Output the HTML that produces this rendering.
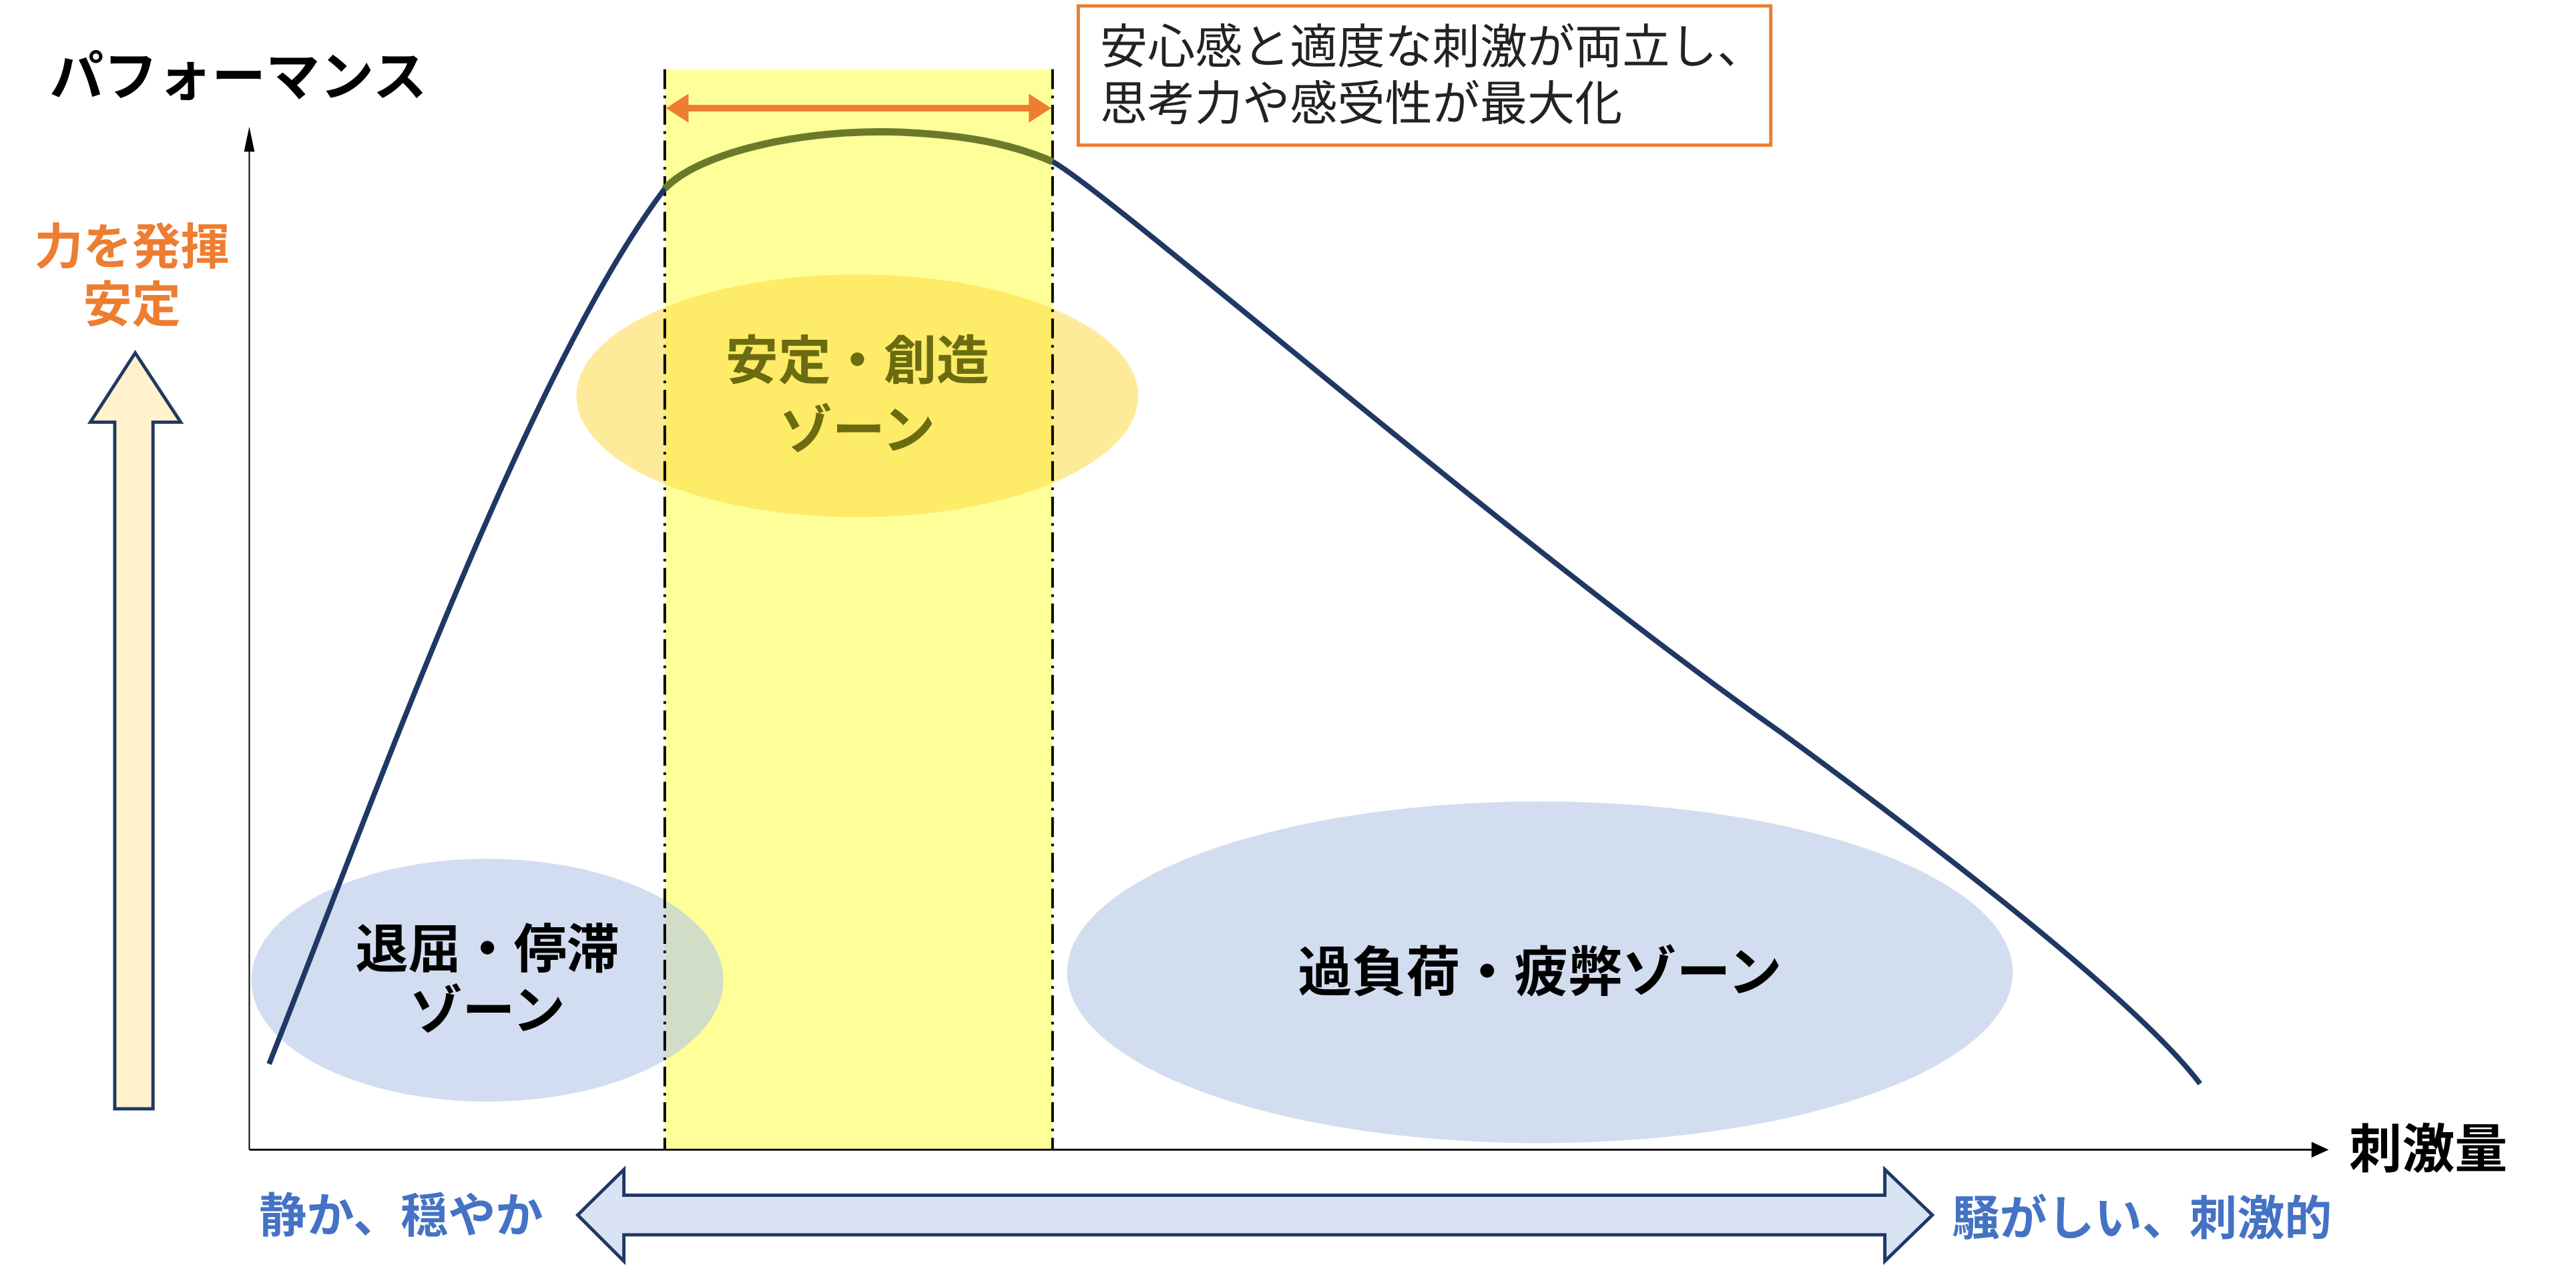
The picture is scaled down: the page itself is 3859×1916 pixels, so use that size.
<!DOCTYPE html>
<html><head><meta charset="utf-8"><style>
html,body{margin:0;padding:0;background:#fff;}
svg{display:block;}
text{font-family:"Liberation Sans","Noto Sans CJK JP",sans-serif;}
</style></head><body>
<svg width="3859" height="1916" viewBox="0 0 3906 1939" preserveAspectRatio="none" xmlns="http://www.w3.org/2000/svg">
<!-- yellow band -->
<rect x="1008" y="105" width="588" height="1638" fill="#ffff99"/>
<!-- ellipses -->
<ellipse cx="1300" cy="600" rx="426" ry="184" fill="#fdd835" fill-opacity="0.5"/>
<ellipse cx="739" cy="1486" rx="358" ry="184" fill="#b4c7e7" fill-opacity="0.6"/>
<ellipse cx="2335" cy="1474" rx="717" ry="259" fill="#d2ddf0"/>
<!-- axes -->
<line x1="378" y1="1743" x2="378" y2="205" stroke="#000" stroke-width="2"/>
<path d="M370,230 L378,192 L386,230z" fill="#000"/>
<line x1="378" y1="1743" x2="3510" y2="1743" stroke="#000" stroke-width="3"/>
<path d="M3505,1731 L3531,1743 L3505,1755z" fill="#000"/>
<!-- dash-dot lines -->
<line x1="1008" y1="105" x2="1008" y2="1743" stroke="#000" stroke-width="4" stroke-dasharray="30,10,4,10"/>
<line x1="1596" y1="105" x2="1596" y2="1743" stroke="#000" stroke-width="4" stroke-dasharray="30,10,4,10"/>
<!-- curve -->
<path d="M408,1613 C560,1230 800,560 1008,286 C1060,230 1230,190 1394,202 C1490,208 1550,225 1596,245 C1680,290 2300,830 2700,1110 C3000,1330 3250,1530 3336,1643" fill="none" stroke="#1f3864" stroke-width="8"/>
<path d="M1008,286 C1060,230 1230,190 1394,202 C1490,208 1550,225 1596,245" fill="none" stroke="#6b7a2a" stroke-width="11"/>
<!-- orange arrow -->
<line x1="1035" y1="164" x2="1570" y2="164" stroke="#ed7d31" stroke-width="10"/>
<path d="M1010,164 L1044,142 L1044,186z" fill="#ed7d31"/>
<path d="M1594,164 L1560,142 L1560,186z" fill="#ed7d31"/>
<!-- callout box -->
<rect x="1635" y="9" width="1050" height="211" fill="#fff" stroke="#ed7d31" stroke-width="5"/>
<text x="1668" y="96" font-size="72" fill="#222">安心感と適度な刺激が両立し、</text>
<text x="1668" y="182" font-size="72" fill="#222">思考力や感受性が最大化</text>
<!-- titles -->
<text x="75" y="145" font-size="82" font-weight="bold" fill="#000">パフォーマンス</text>
<text x="200" y="400" font-size="74" font-weight="bold" fill="#ed7d31" text-anchor="middle">力を発揮</text>
<text x="200" y="488" font-size="74" font-weight="bold" fill="#ed7d31" text-anchor="middle">安定</text>
<!-- up arrow -->
<path d="M174,1681 L174,640 L137,640 L205,535 L274,640 L232,640 L232,1681z" fill="#fff2cc" stroke="#1f3864" stroke-width="5"/>
<!-- zone labels -->
<text x="1300" y="575" font-size="80" font-weight="bold" fill="#6b6b10" text-anchor="middle">安定・創造</text>
<text x="1300" y="680" font-size="80" font-weight="bold" fill="#6b6b10" text-anchor="middle">ゾーン</text>
<text x="739" y="1467" font-size="80" font-weight="bold" fill="#000" text-anchor="middle">退屈・停滞</text>
<text x="739" y="1560" font-size="80" font-weight="bold" fill="#000" text-anchor="middle">ゾーン</text>
<text x="2335" y="1503" font-size="82" font-weight="bold" fill="#000" text-anchor="middle">過負荷・疲弊ゾーン</text>
<text x="3562" y="1770" font-size="80" font-weight="bold" fill="#000">刺激量</text>
<!-- bottom double arrow -->
<path d="M876,1842 L946,1773 L946,1812 L2858,1812 L2858,1773 L2930,1842 L2858,1912 L2858,1872 L946,1872 L946,1912z" fill="#dae3f3" stroke="#1f3864" stroke-width="5"/>
<text x="393" y="1868" font-size="72" font-weight="bold" fill="#4472c4">静か、穏やか</text>
<text x="2960" y="1872" font-size="72" font-weight="bold" fill="#4472c4">騒がしい、刺激的</text>
</svg>
</body></html>
